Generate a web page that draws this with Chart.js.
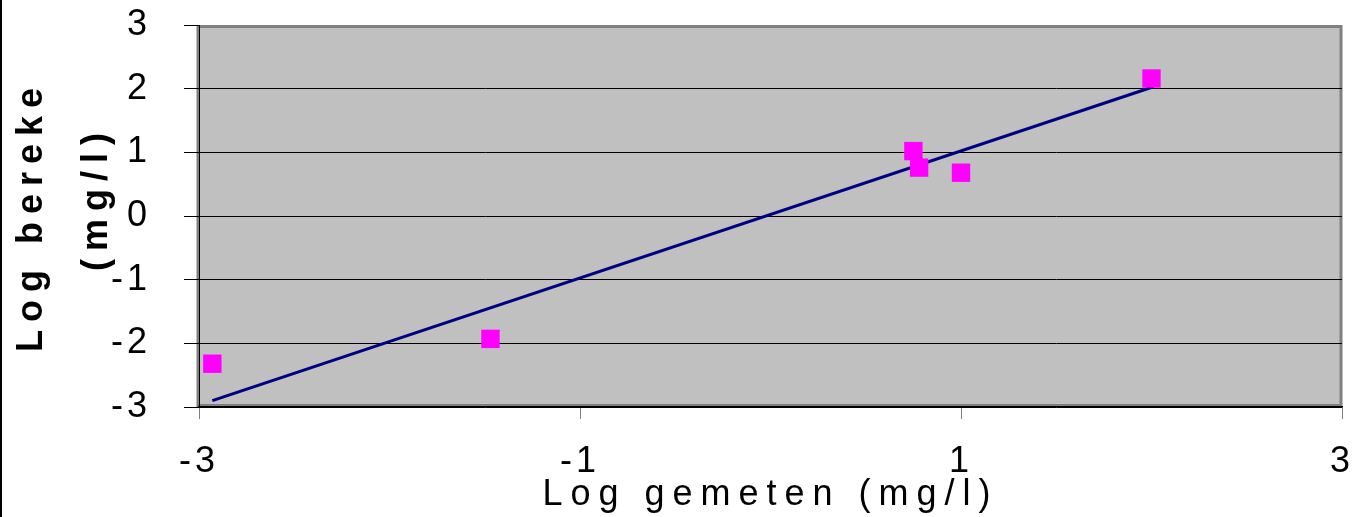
<!DOCTYPE html>
<html>
<head>
<meta charset="utf-8">
<script src="https://cdn.jsdelivr.net/npm/chart.js@4"></script>
<style>
  html, body { margin: 0; padding: 0; background: #fff; }
  #wrap { position: relative; width: 1355px; height: 517px; }
</style>
</head>
<body>
<div id="wrap"><canvas id="logChart"></canvas></div>
<script>
// data
const logGemeten = [-2.93, -1.47, 0.75, 0.78, 1.0, 2.0];
const logBerekend = [-2.32, -1.93, 1.02, 0.76, 0.68, 2.16];
const fitX = [-2.93, 2.01];
const fitY = [-2.9, 2.03];
const xRange = [-3, 3];
const yRange = [-3, 3];

const FONT = "'Liberation Sans', Arial, sans-serif";

// plot area background, frame and letter spacing of the texts
const excelLook = {
    id: 'excelLook',
    beforeUpdate(chart) {
        chart.ctx.letterSpacing = '4px';
    },
    afterUpdate(chart) {
        Object.values(chart.scales).forEach(function(s) {
            const base = Object.getPrototypeOf(s).drawTitle;
            s.drawTitle = function() {
                const c = this.ctx;
                c.save();
                c.letterSpacing = '8px';
                base.call(this);
                c.restore();
            };
        });
    },
    beforeDraw(chart) {
        const {ctx, chartArea: a} = chart;
        ctx.letterSpacing = '4px';
        ctx.save();
        ctx.fillStyle = '#c0c0c0';
        ctx.fillRect(a.left, a.top, a.right - a.left, a.bottom - a.top);
        ctx.strokeStyle = '#808080';
        ctx.lineWidth = 3;
        ctx.strokeRect(a.left - 1, a.top + 1.5, a.right - a.left, a.bottom - a.top - 3);
        ctx.restore();
    },
    afterDraw(chart) {
        const ctx = chart.ctx;
        ctx.save();
        ctx.fillStyle = '#000';
        ctx.fillRect(0, 0, 2, chart.height);
        ctx.restore();
    }
};

new Chart(document.getElementById('logChart'), {
    type: 'scatter',
    data: {
        datasets: [
            {
                label: 'Log berekend',
                data: logGemeten.map((x, i) => ({x: x, y: logBerekend[i]})),
                backgroundColor: '#ff00ff',
                borderColor: '#ff00ff',
                borderWidth: 0,
                pointStyle: 'rect',
                pointRadius: 13,
                pointHoverRadius: 13
            },
            {
                label: 'Trend',
                type: 'line',
                data: fitX.map((x, i) => ({x: x, y: fitY[i]})),
                borderColor: '#000080',
                borderWidth: 3,
                pointRadius: 0,
                fill: false
            }
        ]
    },
    options: {
        responsive: true,
        maintainAspectRatio: false,
        animation: false,
        events: [],
        layout: {
            padding: {top: 25, right: 13, left: 0, bottom: 0}
        },
        plugins: {
            legend: {display: false},
            tooltip: {enabled: false}
        },
        scales: {
            x: {
                type: 'linear',
                min: xRange[0],
                max: xRange[1],
                afterFit: function(s) {
                    s.height = 110;
                    s.paddingLeft = 0;
                    s.paddingRight = 0;
                },
                ticks: {
                    stepSize: 2,
                    color: '#000',
                    padding: 21,
                    font: {family: FONT, size: 36}
                },
                grid: {
                    drawOnChartArea: false,
                    tickLength: 12,
                    tickColor: '#808080'
                },
                border: {color: '#000', width: 1.5},
                title: {
                    display: true,
                    text: 'Log gemeten (mg/l)',
                    color: '#000',
                    padding: {top: 0, bottom: 0},
                    font: {family: FONT, size: 36}
                }
            },
            y: {
                min: yRange[0],
                max: yRange[1],
                afterFit: function(s) {
                    s.width = 199;
                    s.paddingTop = 0;
                    s.paddingBottom = 0;
                },
                ticks: {
                    stepSize: 1,
                    color: '#000',
                    padding: 33,
                    font: {family: FONT, size: 36}
                },
                grid: {
                    color: (c) => c.tick && c.tick.value === 3 ? '#808080' : '#000',
                    lineWidth: 1,
                    tickLength: 15,
                    tickColor: '#000'
                },
                border: {color: '#000', width: 1},
                title: {
                    display: true,
                    text: ['Log bereke', '  (mg/l)'],
                    color: '#000',
                    padding: {top: 0, bottom: 0},
                    font: {family: FONT, size: 36, weight: 'bold', lineHeight: 1.8}
                }
            }
        }
    },
    plugins: [excelLook]
});
</script>
</body>
</html>
